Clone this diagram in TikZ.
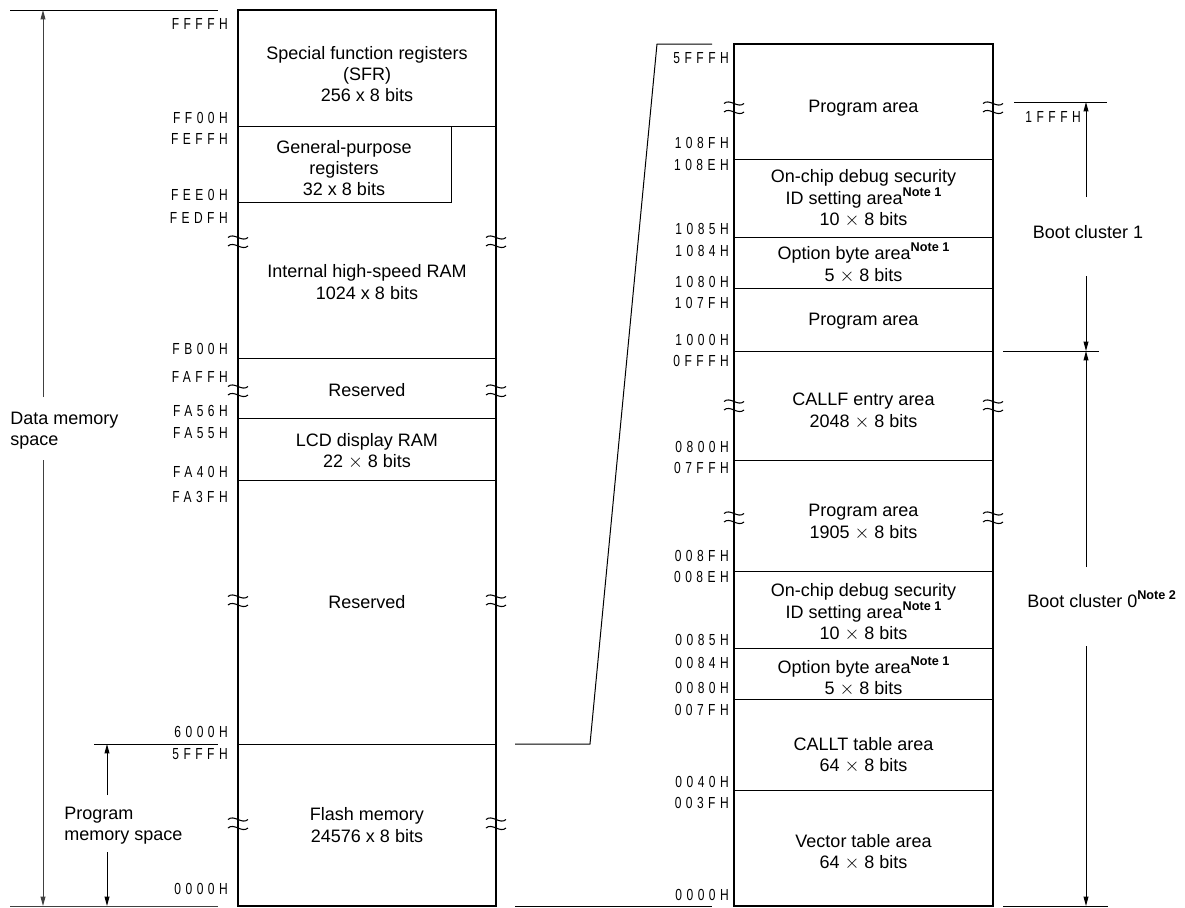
\documentclass[tikz,border=0pt]{standalone}
\usepackage{fontspec}
\setmainfont{Liberation Sans}
\newfontfamily\addrfont[FakeStretch=0.75,LetterSpace=28]{Liberation Sans}
\usetikzlibrary{arrows.meta}
\newcommand\notesup[1]{\raisebox{6pt}{\fontsize{9.5}{10}\selectfont\bfseries #1}}
\begin{document}
\begin{tikzpicture}[x=0.75pt,y=-0.75pt,
  lbl/.style={font=\fontsize{13.5}{16}\selectfont, align=center, inner sep=0pt},
  side/.style={font=\fontsize{13.5}{16}\selectfont, align=left, inner sep=0pt, anchor=west},
  addr/.style={font=\addrfont\fontsize{12}{13}\selectfont, anchor=east, inner sep=0pt},
  boxline/.style={line width=1.5pt},
  sep/.style={line width=0.75pt},
  arr/.style={line width=0.75pt, -{Triangle[length=7pt,width=3.6pt]}},
  brkmark/.style={line width=0.8pt}]
\useasboundingbox (0,0) rectangle (1185,907);
\newcommand\brk[2]{%
  \draw[brkmark] (#1-10,#2-3.5) .. controls (#1-4,#2-9) and (#1+4,#2+2) .. (#1+10,#2-3.5);
  \draw[brkmark] (#1-10,#2+5) .. controls (#1-4,#2-0.5) and (#1+4,#2+10.5) .. (#1+10,#2+5);}

% ---------------- left column ----------------
\draw[boxline] (238,10) rectangle (496,906);
\draw[sep] (238,126) -- (496,126);
\draw[sep] (451,126) -- (451,202) -- (238,202);
\draw[sep] (238,358) -- (496,358);
\draw[sep] (238,418) -- (496,418);
\draw[sep] (238,480) -- (496,480);
\draw[sep] (238,744) -- (496,744);
\foreach \yy in {241,390,600,823} {\brk{238}{\yy}\brk{496}{\yy}}

\node[lbl] (sfr) at (367,74) {Special function registers\\(SFR)\\256 x 8 bits};
\node[lbl] (gpr) at (344,168) {General-purpose\\registers\\32 x 8 bits};
\node[lbl] (ram) at (367,282) {Internal high-speed RAM\\1024 x 8 bits};
\node[lbl] (res1) at (367,390) {Reserved};
\node[lbl] (lcd) at (367,451) {LCD display RAM\\22 $\times$ 8 bits};
\node[lbl] (res2) at (367,602) {Reserved};
\node[lbl] (flash) at (367,825) {Flash memory\\24576 x 8 bits};

\foreach \t/\yy [count=\i] in {FFFFH/24,FF00H/118,FEFFH/139,FEE0H/195,FEDFH/218,FB00H/349,FAFFH/377,FA56H/411,FA55H/433,FA40H/472,FA3FH/497,6000H/732,5FFFH/754,0000H/889}
  \node[addr] (la\i) at (228,\yy) {\t};

% data memory space
\draw[sep] (10,10) -- (218,10);
\draw[sep, black!75] (10,906) -- (218,906);
\node[side] (dms) at (10,431) {Data memory\\space};
\coordinate (dtop) at (43,10);
\coordinate (dbot) at (43,906);
\coordinate (dgap1) at (43,397);
\coordinate (dgap2) at (43,460);
\draw[arr, black!75] (dgap1) -- (dtop);
\draw[arr, black!75] (dgap2) -- (dbot);

% program memory space
\draw[sep] (94,744) -- (218,744);
\node[side] (pms) at (64,825.5) {Program\\memory space};
\coordinate (ptop) at (107,744);
\coordinate (pbot) at (107,906);
\coordinate (pgap1) at (107,795);
\coordinate (pgap2) at (107,852);
\draw[arr] (pgap1) -- (ptop);
\draw[arr] (pgap2) -- (pbot);

% zoom connector
\coordinate (za) at (515,744);
\coordinate (zb) at (590,744);
\coordinate (zc) at (657,44);
\coordinate (zd) at (712,44);
\coordinate (ze) at (515,906);
\coordinate (zf) at (712,906);
\draw[sep] (za) -- (zb) -- (zc) -- (zd);
\draw[sep] (ze) -- (zf);

% ---------------- right column ----------------
\draw[boxline] (734,44) rectangle (993,906);
\foreach \yy in {159,237,288,351,460,571,648,699,790}
  \draw[sep] (734,\yy) -- (993,\yy);
\foreach \yy in {107,405,517} {\brk{734}{\yy}\brk{993}{\yy}}

\node[lbl] (pa1) at (863.5,108) {Program area};
\node[lbl] (ocd1) at (863.5,198.5) {On-chip debug security\\ID setting area\notesup{Note 1}\\10 $\times$ 8 bits};
\node[lbl] (ob1) at (863.5,263) {Option byte area\notesup{Note 1}\\5 $\times$ 8 bits};
\node[lbl] (pa2) at (863.5,321) {Program area};
\node[lbl] (callf) at (863.5,411) {CALLF entry area\\2048 $\times$ 8 bits};
\node[lbl] (pa3) at (863.5,522) {Program area\\1905 $\times$ 8 bits};
\node[lbl] (ocd0) at (863.5,612.5) {On-chip debug security\\ID setting area\notesup{Note 1}\\10 $\times$ 8 bits};
\node[lbl] (ob0) at (863.5,676.5) {Option byte area\notesup{Note 1}\\5 $\times$ 8 bits};
\node[lbl] (callt) at (863.5,755.5) {CALLT table area\\64 $\times$ 8 bits};
\node[lbl] (vec) at (863.5,852) {Vector table area\\64 $\times$ 8 bits};

\foreach \t/\yy [count=\i] in {5FFFH/58,108FH/143,108EH/165,1085H/229,1084H/251,1080H/282,107FH/303,1000H/340,0FFFH/361,0800H/447,07FFH/468,008FH/556,008EH/577,0085H/640,0084H/663,0080H/688,007FH/710,0040H/782,003FH/803,0000H/895}
  \node[addr] (ra\i) at (729,\yy) {\t};

% boot clusters
\draw[sep] (1014,102) -- (1107,102);
\node[addr] (b1top) at (1081,117) {1FFFH};
\draw[sep] (1003,351) -- (1099,351);
\draw[sep] (1003,906) -- (1108,906);
\node[lbl] (bc1) at (1088,232) {Boot cluster 1};
\node[side] (bc0) at (1027,599) {Boot cluster 0\notesup{Note 2}};
\coordinate (b1a) at (1086,102);
\coordinate (b1b) at (1086,197);
\coordinate (b1c) at (1086,276);
\coordinate (b1d) at (1086,351);
\coordinate (b0b) at (1086,567);
\coordinate (b0c) at (1086,646);
\coordinate (b0d) at (1086,906);
\draw[arr] (b1b) -- (b1a);
\draw[arr] (b1c) -- (b1d);
\draw[arr] (b0b) -- (b1d);
\draw[arr] (b0c) -- (b0d);
\end{tikzpicture}
\end{document}
